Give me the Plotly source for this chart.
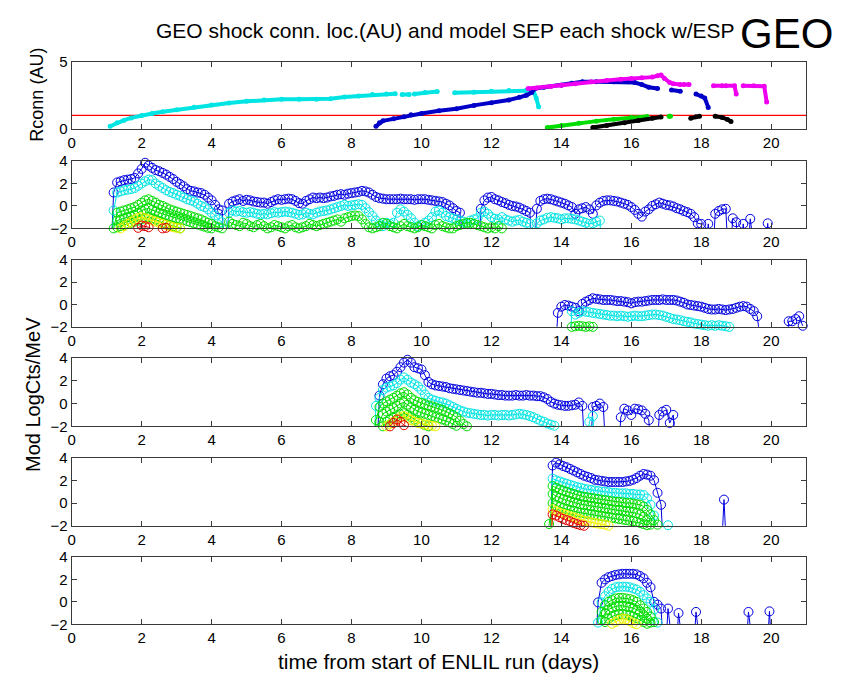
import plotly.graph_objects as go

# ---------------------------------------------------------------- data
LO = -6.0              # model value below the plotted floor (drawn as a drop to the axis)
STEP = 0.1             # model output cadence, days
THRESHOLD_AU = 1.0     # 1 AU reference line in the Rconn panel

X_TICKS = [0, 2, 4, 6, 8, 10, 12, 14, 16, 18, 20]
Y_TICKS_SEP = [-2, 0, 2, 4]
Y_TICKS_RCONN = [0, 5]

# connection radius of each shock (AU) vs time (days)
RC_CYAN_T = [1.1, 1.3, 1.5, 1.7, 2.0, 2.3, 2.6, 3.0, 3.5, 4.0, 4.5, 5.0, 5.5, 6.0, 6.5, 7.0, 7.4, 7.8,
             8.2, 8.6, 9.0, 9.25, None, 9.45, 9.65, None, 9.8, 10.1, 10.45, None, 10.95, 11.5, 12.0,
             12.5, 13.0, 13.2, 13.28, 13.35]
RC_CYAN_R = [0.2, 0.45, 0.65, 0.82, 1.0, 1.15, 1.28, 1.42, 1.62, 1.78, 1.92, 2.05, 2.15, 2.2, 2.2, 2.2,
             2.25, 2.38, 2.45, 2.55, 2.6, 2.62, None, 2.55, 2.55, None, 2.6, 2.7, 2.78, None, 2.68,
             2.72, 2.8, 2.85, 2.87, 2.85, 2.3, 1.65]
RC_BLUE_T = [8.7, 8.8, 8.9, 9.2, 9.5, 9.7, 10.0, 10.5, 11.0, 11.5, 12.0, 12.5, 12.8, 13.0, 13.15, 13.25,
             13.5, 14.0, 14.3, 14.6, 15.0, 15.5, 15.9, 16.1, 16.3, 16.5, 16.75, None, 17.15, 17.4, None,
             17.85, 18.0, 18.1, 18.2]
RC_BLUE_R = [0.2, 0.45, 0.6, 0.75, 0.9, 1.05, 1.15, 1.35, 1.5, 1.75, 1.95, 2.15, 2.35, 2.5, 2.7, 3.0,
             3.1, 3.25, 3.4, 3.5, 3.5, 3.5, 3.5, 3.45, 3.3, 3.1, 3.0, None, 2.9, 2.8, None, 2.6, 2.45,
             2.3, 1.6]
RC_MAGENTA_T = [13.05, 13.3, 13.7, 14.0, 14.4, 14.85, 15.3, 15.7, 16.0, 16.3, 16.6, 16.75, 16.85, 16.95,
                17.1, 17.2, 17.4, None, 17.5, 17.65, None, 18.35, 18.6, None, 18.7, 18.95, 19.0, None,
                19.2, 19.5, 19.8, 19.87]
RC_MAGENTA_R = [3.0, 3.05, 3.15, 3.25, 3.35, 3.5, 3.6, 3.7, 3.75, 3.8, 3.85, 3.95, 4.0, 3.75, 3.45,
                3.35, 3.3, None, 3.3, 3.3, None, 3.2, 3.2, None, 3.2, 3.2, 2.6, None, 3.2, 3.2, 3.18, 2.0]
RC_GREEN_T = [13.6, 14.0, 14.5, 15.0, 15.5, 16.0, 16.45, None, 17.08, 17.12]
RC_GREEN_R = [0.1, 0.25, 0.42, 0.58, 0.72, 0.85, 0.92, None, 0.95, 0.95]
RC_BLACK_T = [14.9, 15.3, 15.8, 16.2, 16.6, 16.85, None, 17.7, 17.85, 17.95, None, 18.4, 18.6, 18.75, 18.85]
RC_BLACK_R = [0.1, 0.25, 0.46, 0.62, 0.8, 0.89, None, 0.8, 0.9, 0.94, None, 0.94, 0.85, 0.7, 0.55]

# modelled SEP log counts per energy channel, one list per channel, sampled every STEP days
# shock 1
S1_BLUE_T0 = 1.1
S1_BLUE = [LO,
           1.2, 2.1, 2.2, 2.3, 2.35, 2.4, 2.5, 2.9, 3.3, 3.85,
           3.6, 3.4, 3.2, 3.1, 2.95, 2.8, 2.6, 2.4, 2.15, 1.95,
           1.75, 1.5, 1.35, 1.3, 1.2, 1.15, 1.0, 0.75, 0.5, 0.1,
           -0.3, -0.4, LO, 0.2, 0.4, 0.5, 0.6, 0.45, 0.55, 0.5,
           0.4, 0.35, 0.3, 0.3, 0.2, 0.35, 0.5, 0.6, 0.55, 0.6,
           0.65, 0.6, 0.45, 0.25, 0.2, 0.45, 0.6, 0.75, 0.7, 0.75,
           0.7, 0.75, 0.85, 0.9, 1.0, 1.05, 1.0, 1.1, 1.15, 1.2,
           1.25, 1.35, 1.3, 1.2, 1.0, 0.8, 0.7, 0.65, 0.6, 0.6,
           0.6, 0.6, 0.65, 0.6, 0.6, 0.6, 0.55, 0.6, 0.6, 0.6,
           0.55, 0.5, 0.45, 0.4, 0.35, 0.2, 0.05, -0.2, -0.45, -0.6,
           LO, LO, LO, LO, LO, -0.25, 0.5, 0.75, 0.8, 0.6,
           0.5, 0.35, 0.25, 0.1, 0.0, -0.05, -0.15, -0.3, -0.45, -0.6,
           LO, -0.25, 0.45, 0.6, 0.65, 0.6, 0.5, 0.4, 0.3, 0.2,
           0.05, -0.1, -0.7, -0.3, -0.2, -0.1, -0.3, -0.7, 0.05, 0.3,
           0.45, 0.5, 0.5, 0.45, 0.4, 0.3, 0.2, 0.1, -0.1, -0.35,
           -0.7, -0.95, -0.5, -0.3, 0.0, 0.15, 0.3, 0.2, 0.1, 0.05,
           -0.05, -0.2, -0.3, -0.45, -0.55, -0.7, -1.0, -1.55, -1.6, LO,
           -1.6, LO, -0.7, -0.45, -0.3, -0.25, LO, -1.1, -1.45, LO,
           -1.6, LO, -1.15, LO, LO, LO, LO, -1.55, LO]
S1_CYAN_T0 = 1.1
S1_CYAN = [LO,
           -0.4, 1.2, 1.3, 1.4, 1.45, 1.5, 1.6, 1.8, 2.0, 2.2,
           2.35, 2.3, 2.0, 1.8, 1.6, 1.4, 1.25, 1.15, 1.0, 0.9,
           0.75, 0.6, 0.5, 0.4, 0.2, 0.0, -0.1, -0.3, -0.6, -0.85,
           -1.2, -1.45, LO, -0.6, -0.4, -0.5, -0.45, -0.55, -0.6, -0.55,
           -0.6, -0.7, -0.75, -0.7, -0.75, -0.65, -0.55, -0.6, -0.55, -0.5,
           -0.55, -0.6, -0.7, -0.8, -0.75, -0.6, -0.7, -0.75, -0.6, -0.5,
           -0.45, -0.4, -0.3, -0.2, -0.1, 0.0, 0.1, 0.0, 0.05, 0.1,
           0.15, 0.1, -0.2, -0.55, -0.9, -1.3, -1.6, -1.8, -1.5, -1.6,
           -1.5, -0.6, -0.3, -0.5, -0.8, -1.1, -1.5, -1.8, -1.7, -1.5,
           -1.3, -1.0, -0.5, -0.4, -0.6, -0.9, -1.0, -1.1, -1.2, -1.3,
           -1.4, -1.6, -1.3, -1.2, -1.1, -0.6, -0.5, -0.7, -1.0, -1.15,
           -1.2, -1.0, -1.2, -1.3, -1.4, -1.3, -1.25, -1.4, -1.5, -1.6,
           LO, -1.55, -1.3, -1.2, -1.05, -1.0, -1.05, -1.1, -1.2, -1.1,
           -1.1, -1.15, -1.2, -1.3, -1.4, -1.5, -1.6, -1.55, -1.4, -1.3,
           LO]
S1_GREEN_A_T0 = 1.1
S1_GREEN_A = [LO,
              -2.0, -0.6, -0.5, -0.4, -0.3, -0.2, -0.1, 0.1, 0.3, 0.5,
              0.6, 0.45, 0.3, 0.1, 0.0, -0.15, -0.3, -0.4, -0.5, -0.6,
              -0.7, -0.8, -0.9, -1.0, -1.1, -1.2, -1.35, -1.5, -1.6, -1.8,
              -1.9, -2.0, LO, -1.4, -1.6, -1.7, -1.8, -1.5, -1.6, -1.8,
              -1.9, -1.7, -1.6, -1.8, -2.0, -1.9, -1.7, -1.8, -1.9, -2.0,
              -1.8, -1.7, -1.9, -2.0, -1.9, -1.8, -1.6, -1.7, -1.8, -1.7,
              -1.6, -1.5, -1.4, -1.3, -1.2, -1.4, -1.1, -1.0, -0.9, -0.85,
              -0.9, -1.2, -1.6, -1.9, -2.0, -1.9, -1.8, -1.5, -1.6, -1.8,
              -1.9, -2.0, -1.8, -1.6, -1.8, -1.9, -2.0, -1.9, -1.7, -1.8,
              -1.9, -2.0, -1.7, -1.6, -1.8, -1.9, -2.0, -2.0, -1.8, -1.7,
              -1.6, -1.5, -1.5, -1.6, -1.7, -1.8, -1.9, -2.0, -1.9, -2.0,
              -1.8, -2.0, LO]
S1_GREEN_B_T0 = 1.2
S1_GREEN_B = [LO, -1.3, -1.2, -1.1, -1.0, -0.9, -0.8, -0.6, -0.4, -0.3,
              -0.2, -0.35, -0.5, -0.6, -0.7, -0.8, -0.9, -1.0, -1.1, -1.15,
              -1.25, -1.35, -1.45, -1.55, -1.65, -1.75, -1.85, -1.95, -2.0, -2.1, LO]
S1_GREEN_C_T0 = 1.2
S1_GREEN_C = [LO, -1.9, -1.8, -1.7, -1.6, -1.5, -1.4, -1.3, -1.2, -1.1,
              -1.0, -1.1, -1.2, -1.35, -1.5, -1.6, -1.7, -1.8, -1.9, -2.0, -2.05, LO]
S1_YELLOW_T0 = 1.3
S1_YELLOW = [LO, -2.0, -1.8, -1.6, -1.4, -1.2, -1.05, -1.0, -1.1, -1.2, -1.3,
             -1.4, -1.5, -1.6, -1.7, -1.8, -1.9, -1.95, -2.0, -2.05, LO]
S1_RED_T0 = 1.8
S1_RED = [LO, -1.95, -1.75, -1.8, -1.9, -2.05, LO, LO, -2.0, -1.95, -2.05, LO]

# shock 2
S2_BLUE_T0 = 13.8
S2_BLUE = [LO, -0.75, -0.2, -0.05, -0.1, -0.2, -0.3, -0.6, 0.05, 0.25, 0.4,
           0.55, 0.5, 0.45, 0.4, 0.4, 0.4, 0.35, 0.3, 0.3, 0.25,
           0.2, 0.1, 0.2, 0.25, 0.25, 0.3, 0.35, 0.4, 0.4, 0.4,
           0.45, 0.4, 0.4, 0.4, 0.35, 0.25, 0.15, 0.0, -0.05, -0.1,
           -0.15, -0.2, -0.3, -0.4, -0.45, -0.45, -0.4, -0.45, -0.5, -0.45,
           -0.4, -0.3, -0.2, -0.15, -0.2, -0.4, -0.6, -1.05, LO, LO,
           LO, LO, LO, LO, LO, LO, -1.5, -1.5, -1.3, -1.05, -1.9]
S2_CYAN_T0 = 14.2
S2_CYAN = [LO, -0.6, -0.9, -0.75, -0.6, -0.65, -0.7, -0.75, -0.8, -0.85, -0.9,
           -0.95, -1.0, -1.0, -1.05, -1.0, -1.05, -1.1, -1.05, -1.0, -1.05,
           -1.05, -1.0, -0.95, -0.9, -0.9, -0.95, -1.0, -1.1, -1.2, -1.3,
           -1.35, -1.4, -1.5, -1.55, -1.6, -1.7, -1.75, -1.8, -1.85, -1.9,
           -1.85, -1.9, -1.85, -1.9, -1.95, -2.0, LO]
S2_GREEN_T0 = 14.2
S2_GREEN = [LO, -2.0, -1.95, -1.9, -1.95, -2.0, -1.95, -2.0, -2.05, LO]

# shock 3
S3_BLUE_T0 = 8.7
S3_BLUE = [LO, 0.7, 1.7, 2.2, 2.4, 2.5, 2.8, 3.2, 3.6, 3.85, 3.6,
           3.2, 3.1, 3.0, 2.5, 1.9, 1.7, 1.6, 1.55, 1.5, 1.45,
           1.35, 1.3, 1.25, 1.2, 1.15, 1.1, 1.05, 1.0, 0.95, 0.95,
           0.9, 0.85, 0.85, 0.8, 0.75, 0.75, 0.7, 0.7, 0.7, 0.75,
           0.7, 0.7, 0.75, 0.7, 0.7, 0.65, 0.65, 0.55, 0.4, 0.15,
           0.0, -0.1, -0.15, -0.2, -0.2, -0.15, -0.1, 0.1, -0.2, LO,
           LO, -0.3, -0.2, 0.0, -0.3, LO, LO, LO, LO, -1.2,
           -0.45, -0.6, -1.0, -0.45, -0.5, -0.6, -0.9, -1.45, LO, LO,
           -1.0, -0.7, -0.55, -1.7, -1.0, LO]
S3_CYAN_T0 = 8.6
S3_CYAN = [LO, -0.2, 0.5, 1.2, 1.4, 1.5, 1.6, 1.8, 2.1, 2.3, 2.1,
           1.85, 1.7, 1.5, 1.2, 0.8, 0.5, 0.35, 0.25, 0.15, 0.1,
           0.0, -0.15, -0.3, -0.45, -0.6, -0.7, -0.8, -0.85, -0.9, -0.95,
           -1.0, -1.0, -1.05, -1.0, -1.0, -1.05, -1.0, -1.0, -1.05, -1.0,
           -0.95, -0.9, -0.95, -1.0, -1.1, -1.2, -1.35, -1.5, -1.6, -1.75,
           -1.85, -1.95, LO, LO, LO, LO, LO, LO, LO, LO,
           LO, -1.6, -1.1, LO]
S3_GREEN_A_T0 = 8.6
S3_GREEN_A = [LO, -1.45, -0.3, 0.0, 0.2, 0.35, 0.5, 0.7, 0.9, 1.0, 0.8,
              0.5, 0.3, 0.15, 0.05, -0.05, -0.15, -0.25, -0.35, -0.45, -0.55,
              -0.7, -0.85, -1.0, -1.2, -1.5, -1.8, -2.0, LO]
S3_GREEN_B_T0 = 8.7
S3_GREEN_B = [LO, -1.6, -0.9, -0.7, -0.55, -0.4, -0.2, 0.0, 0.1, -0.1, -0.35,
              -0.55, -0.7, -0.8, -0.9, -1.0, -1.1, -1.2, -1.3, -1.4, -1.5,
              -1.65, -1.8, -1.95, LO]
S3_GREEN_C_T0 = 8.8
S3_GREEN_C = [LO, -2.0, -1.6, -1.4, -1.25, -1.1, -0.95, -0.85, -1.0, -1.2, -1.4,
              -1.6, -1.75, -1.9, -2.0, LO]
S3_YELLOW_T0 = 8.9
S3_YELLOW = [LO, -2.0, -1.8, -1.6, -1.4, -1.2, -1.1, -1.25, -1.45, -1.6, -1.7,
             -1.75, -1.85, -1.9, -1.95, -2.0, -2.05, LO]
S3_RED_T0 = 9.0
S3_RED = [LO, -2.0, -1.7, -1.4, -1.6, -1.9, -2.05, LO]

# shock 4
S4_BLUE_T0 = 13.65
S4_BLUE = [LO, 3.3, 3.55, 3.4, 3.25, 3.15, 3.0, 2.85, 2.7, 2.55, 2.4,
           2.3, 2.2, 2.05, 2.0, 1.95, 1.9, 1.85, 1.85, 1.85, 1.85,
           1.85, 1.9, 1.95, 2.05, 2.2, 2.4, 2.55, 2.5, 2.4, 2.0,
           0.9, -0.15, LO, LO, LO, LO, LO, LO, LO, LO,
           LO, LO, LO, LO, LO, LO, LO, LO, LO, 0.3, LO]
S4_CYAN_T0 = 13.65
S4_CYAN = [LO, 2.15, 2.0, 1.9, 1.8, 1.7, 1.6, 1.5, 1.4, 1.35, 1.25,
           1.2, 1.15, 1.1, 1.05, 1.0, 1.0, 0.95, 0.9, 0.9, 0.85,
           0.85, 0.85, 0.8, 0.8, 0.75, 0.75, 0.7, 0.4, -0.15, -1.1,
           LO, LO, LO, -1.95, LO]
S4_GREEN_A_T0 = 13.65
S4_GREEN_A = [LO, 1.5, 1.35, 1.2, 1.1, 1.0, 0.9, 0.8, 0.7, 0.6, 0.55,
              0.5, 0.45, 0.4, 0.35, 0.3, 0.25, 0.2, 0.15, 0.1, 0.1,
              0.05, 0.0, 0.0, -0.05, -0.1, -0.15, -0.3, -0.6, -1.0, -1.5,
              -1.9, LO]
S4_GREEN_B_T0 = 13.65
S4_GREEN_B = [LO, 0.8, 0.6, 0.45, 0.35, 0.25, 0.15, 0.05, 0.0, -0.1, -0.15,
              -0.2, -0.25, -0.3, -0.35, -0.4, -0.45, -0.5, -0.55, -0.6, -0.6,
              -0.65, -0.7, -0.75, -0.8, -0.9, -1.0, -1.2, -1.5, -1.9, LO]
S4_GREEN_C_T0 = 13.55
S4_GREEN_C = [LO, -1.85, 0.0, -0.2, -0.35, -0.45, -0.55, -0.65, -0.7, -0.8, -0.85,
              -0.9, -0.95, -1.0, -1.05, -1.1, -1.15, -1.2, -1.25, -1.3, -1.35,
              -1.4, -1.45, -1.5, -1.55, -1.6, -1.65, -1.75, -1.85, -1.95, LO]
S4_YELLOW_T0 = 13.65
S4_YELLOW = [LO, -0.55, -0.7, -0.85, -0.95, -1.05, -1.15, -1.25, -1.35, -1.45, -1.55,
             -1.6, -1.7, -1.75, -1.8, -1.85, -1.9, -2.0, LO]
S4_RED_T0 = 13.65
S4_RED = [LO, -1.0, -1.1, -1.25, -1.4, -1.5, -1.6, -1.75, -1.85, -1.95, -2.0, LO]

# shock 5
S5_BLUE_T0 = 14.95
S5_BLUE = [LO, -0.05, 1.7, 2.0, 2.2, 2.3, 2.4, 2.45, 2.5, 2.5,
           2.5, 2.5, 2.45, 2.3, 2.1, 1.7, 1.3, 0.0, -0.25, -0.6,
           LO, -0.6, LO, LO, -1.0, LO, LO, LO, LO, -0.9,
           LO, LO, LO, LO, LO, LO, LO, LO, LO, LO,
           LO, LO, LO, LO, -0.9, LO, LO, LO, LO, LO,
           -0.85, LO]
S5_CYAN_T0 = 14.95
S5_CYAN = [LO, -1.85, -0.05, 0.5, 0.9, 1.15, 1.3, 1.35, 1.35, 1.35,
           1.3, 1.2, 1.1, 0.9, 0.6, 0.3, 0.0, -0.7, -1.85, LO]
S5_GREEN_A_T0 = 15.05
S5_GREEN_A = [LO, -0.9, -0.3, 0.0, 0.15, 0.3, 0.35, 0.35, 0.3, 0.25,
              0.15, 0.0, -0.3, -0.6, -0.9, -1.3, -1.8, LO]
S5_GREEN_B_T0 = 15.05
S5_GREEN_B = [LO, -1.6, -1.0, -0.7, -0.5, -0.4, -0.35, -0.35, -0.4, -0.45,
              -0.55, -0.7, -0.9, -1.2, -1.5, -1.85, LO]
S5_GREEN_C_T0 = 15.15
S5_GREEN_C = [LO, -1.8, -1.5, -1.3, -1.2, -1.1, -1.1, -1.15, -1.2, -1.3,
              -1.45, -1.6, -1.8, -1.95, LO]
S5_YELLOW_T0 = 15.35
S5_YELLOW = [LO, -1.95, -1.8, -1.6, -1.5, -1.55, -1.7, -1.9, -2.0, LO]

# ---------------------------------------------------------------- styling
W, H = 846, 682
X_LEFT, X_RIGHT = 68, 806
PANEL_PX = [(54, 123), (156, 225), (257, 326), (358, 428), (460, 530), (562, 631)]

C_BLUE, C_CYAN, C_GREEN, C_YELLOW, C_RED = "#0000e0", "#00e4e4", "#00dd00", "#f2f200", "#e00000"
C_MAGENTA, C_BLACK, C_RCBLUE = "#f000f0", "#000000", "#0000c8"
AXIS_COLOR = "#3a3a3a"
FONT = "Liberation Sans, Arial, Helvetica, sans-serif"

SEP_PANELS = [
    [(S1_BLUE_T0, S1_BLUE, C_BLUE), (S1_CYAN_T0, S1_CYAN, C_CYAN),
     (S1_GREEN_A_T0, S1_GREEN_A, C_GREEN), (S1_GREEN_B_T0, S1_GREEN_B, C_GREEN),
     (S1_GREEN_C_T0, S1_GREEN_C, C_GREEN), (S1_YELLOW_T0, S1_YELLOW, C_YELLOW),
     (S1_RED_T0, S1_RED, C_RED)],
    [(S2_BLUE_T0, S2_BLUE, C_BLUE), (S2_CYAN_T0, S2_CYAN, C_CYAN),
     (S2_GREEN_T0, S2_GREEN, C_GREEN)],
    [(S3_BLUE_T0, S3_BLUE, C_BLUE), (S3_CYAN_T0, S3_CYAN, C_CYAN),
     (S3_GREEN_A_T0, S3_GREEN_A, C_GREEN), (S3_GREEN_B_T0, S3_GREEN_B, C_GREEN),
     (S3_GREEN_C_T0, S3_GREEN_C, C_GREEN), (S3_YELLOW_T0, S3_YELLOW, C_YELLOW),
     (S3_RED_T0, S3_RED, C_RED)],
    [(S4_BLUE_T0, S4_BLUE, C_BLUE), (S4_CYAN_T0, S4_CYAN, C_CYAN),
     (S4_GREEN_A_T0, S4_GREEN_A, C_GREEN), (S4_GREEN_B_T0, S4_GREEN_B, C_GREEN),
     (S4_GREEN_C_T0, S4_GREEN_C, C_GREEN), (S4_YELLOW_T0, S4_YELLOW, C_YELLOW),
     (S4_RED_T0, S4_RED, C_RED)],
    [(S5_BLUE_T0, S5_BLUE, C_BLUE), (S5_CYAN_T0, S5_CYAN, C_CYAN),
     (S5_GREEN_A_T0, S5_GREEN_A, C_GREEN), (S5_GREEN_B_T0, S5_GREEN_B, C_GREEN),
     (S5_GREEN_C_T0, S5_GREEN_C, C_GREEN), (S5_YELLOW_T0, S5_YELLOW, C_YELLOW)],
]

RCONN_CURVES = [(RC_CYAN_T, RC_CYAN_R, C_CYAN), (RC_BLUE_T, RC_BLUE_R, C_RCBLUE),
                (RC_MAGENTA_T, RC_MAGENTA_R, C_MAGENTA), (RC_GREEN_T, RC_GREEN_R, C_GREEN),
                (RC_BLACK_T, RC_BLACK_R, C_BLACK)]

fig = go.Figure()


def ax_name(i):
    return "" if i == 0 else str(i + 1)


# ---- Rconn panel: 1 AU reference line first, then the shock tracks on top
fig.add_trace(go.Scatter(x=[0, 21], y=[THRESHOLD_AU, THRESHOLD_AU], mode="lines",
                         xaxis="x", yaxis="y", line=dict(color="#ff0000", width=1.3),
                         showlegend=False, hoverinfo="skip"))
for t, r, col in RCONN_CURVES:
    fig.add_trace(go.Scatter(x=t, y=r, mode="lines+markers", xaxis="x", yaxis="y",
                             line=dict(color=col, width=4), marker=dict(color=col, size=5),
                             connectgaps=False, showlegend=False, hoverinfo="skip"))

# ---- SEP panels: line through each channel, open circle at every sample above the floor
for p, series in enumerate(SEP_PANELS, start=1):
    k = ax_name(p)
    for t0, vals, col in series:
        t = [round(t0 + STEP * i, 3) for i in range(len(vals))]
        fig.add_trace(go.Scatter(x=t, y=vals, mode="lines", xaxis="x" + k, yaxis="y" + k,
                                 line=dict(color=col, width=1), showlegend=False,
                                 hoverinfo="skip"))
        shown = [v if v > LO else None for v in vals]
        fig.add_trace(go.Scatter(x=t, y=shown, mode="markers", xaxis="x" + k, yaxis="y" + k,
                                 cliponaxis=False,
                                 marker=dict(symbol="circle-open", size=9, color=col,
                                             line=dict(width=1, color=col)),
                                 showlegend=False, hoverinfo="skip"))

axis_common = dict(showline=True, linecolor=AXIS_COLOR, linewidth=1, mirror="ticks",
                   ticks="inside", ticklen=5, tickwidth=1, tickcolor=AXIS_COLOR,
                   showgrid=False, zeroline=False,
                   tickfont=dict(family=FONT, size=15, color="black"))

layout_axes = {}
for i, (top, bot) in enumerate(PANEL_PX):
    k = ax_name(i)
    layout_axes["xaxis" + k] = dict(axis_common, domain=[X_LEFT / W, X_RIGHT / W],
                                    anchor="y" + k, range=[0, 21], tickvals=X_TICKS)
    if i == 0:
        yr, yt = [0, 5], Y_TICKS_RCONN
    else:
        yr, yt = [-2, 4], Y_TICKS_SEP
    layout_axes["yaxis" + k] = dict(axis_common, domain=[1 - bot / H, 1 - top / H],
                                    anchor="x" + k, range=yr, tickvals=yt)

fig.update_layout(**layout_axes)


def px_to_paper(x, y):
    return x / W, 1 - y / H


annotations = []
tx, ty = px_to_paper(736, 22)
annotations.append(dict(text="GEO shock conn. loc.(AU) and model SEP each shock w/ESP",
                        x=tx, y=ty, xref="paper", yref="paper", showarrow=False,
                        xanchor="right", yanchor="middle",
                        font=dict(family=FONT, size=21, color="black")))
gx, gy = px_to_paper(786, 25)
annotations.append(dict(text="GEO", x=gx, y=gy, xref="paper", yref="paper", showarrow=False,
                        xanchor="center", yanchor="middle",
                        font=dict(family=FONT, size=42, color="black")))
rx, ry = px_to_paper(33, 88)
annotations.append(dict(text="Rconn (AU)", x=rx, y=ry, xref="paper", yref="paper",
                        showarrow=False, textangle=-90, xanchor="center", yanchor="middle",
                        font=dict(family=FONT, size=18, color="black")))
mx, my = px_to_paper(29, 395)
annotations.append(dict(text="Mod LogCts/MeV", x=mx, y=my, xref="paper", yref="paper",
                        showarrow=False, textangle=-90, xanchor="center", yanchor="middle",
                        font=dict(family=FONT, size=20, color="black")))
lx, ly = px_to_paper(437, 669)
annotations.append(dict(text="time from start of ENLIL run (days)", x=lx, y=ly, xref="paper",
                        yref="paper", showarrow=False, xanchor="center", yanchor="middle",
                        font=dict(family=FONT, size=21, color="black")))

fig.update_layout(width=W, height=H, margin=dict(l=0, r=0, t=0, b=0),
                  paper_bgcolor="white", plot_bgcolor="white",
                  annotations=annotations, showlegend=False)

fig.write_html("out.html")
